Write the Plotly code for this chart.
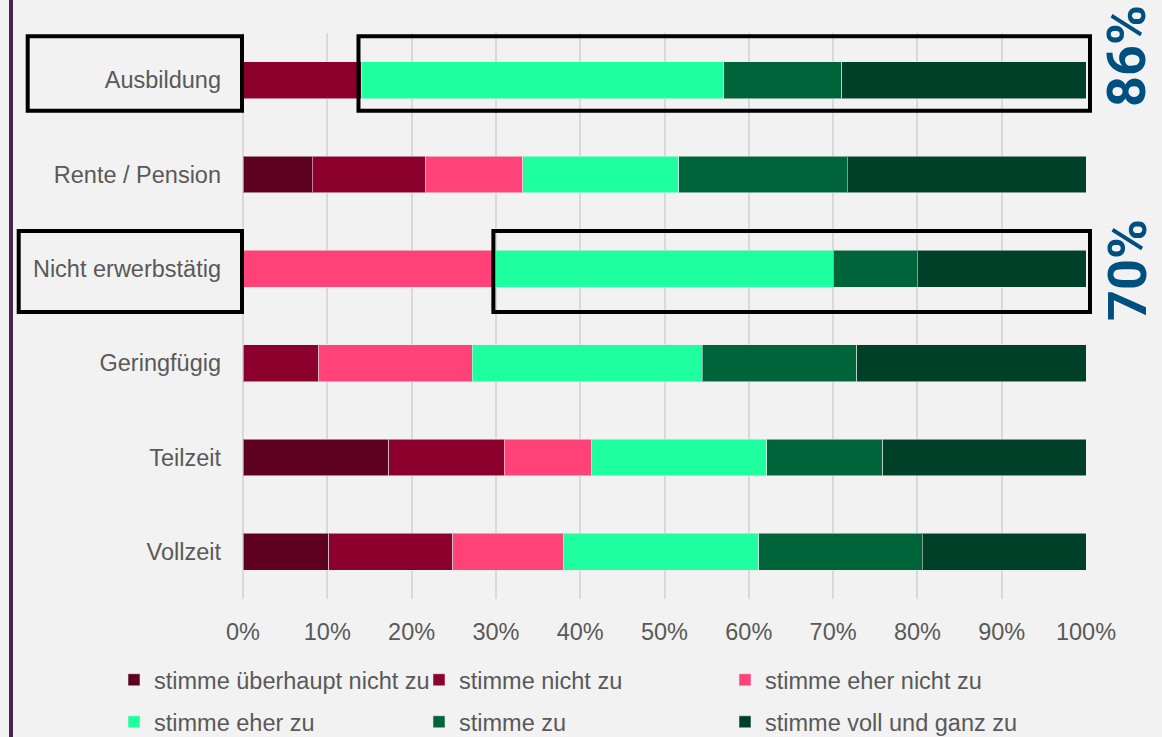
import plotly.graph_objects as go

# Survey answers by employment status (share of respondents, %)
categories = ["Ausbildung", "Rente / Pension", "Nicht erwerbstätig",
              "Geringfügig", "Teilzeit", "Vollzeit"]

series_names = ["stimme überhaupt nicht zu", "stimme nicht zu", "stimme eher nicht zu",
                "stimme eher zu", "stimme zu", "stimme voll und ganz zu"]

ueberhaupt_nicht = [0, 8.2, 0, 0, 17.3, 10.2]
nicht = [14, 13.4, 0, 9.0, 13.7, 14.7]
eher_nicht = [0, 11.6, 30, 18.2, 10.3, 13.1]
eher_zu = [43, 18.5, 40, 27.3, 20.8, 23.2]
zu = [14, 20.0, 10, 18.3, 13.8, 19.4]
voll = [29, 28.3, 20, 27.2, 24.1, 19.4]

series_colors = ["#5e001f", "#8c002d", "#ff4378", "#1effa0", "#00643a", "#003f28"]

x_ticks = list(range(0, 101, 10))
x_tick_labels = [f"{t}%" for t in x_ticks]

# categories whose agreement share is highlighted
highlighted = ["Ausbildung", "Nicht erwerbstätig"]

W, H = 1162, 737
M_L, M_R, M_T, M_B = 243, 76, 33, 138
PLOT_W = W - M_L - M_R
PLOT_H = H - M_T - M_B

TEXT_GREY = "#595959"
FONT = "Liberation Sans, Arial, sans-serif"
FS = 23.5

# legend grid: three columns, two rows
LEG_COL_X = [114, 419, 725]
LEG_ROW_Y = [680, 722]

series_values = [ueberhaupt_nicht, nicht, eher_nicht, eher_zu, zu, voll]

fig = go.Figure()
legend_layouts = {}
for i, (name, vals, col) in enumerate(zip(series_names, series_values, series_colors)):
    leg_id = "legend" if i == 0 else f"legend{i + 1}"
    fig.add_trace(go.Bar(
        name=name,
        y=categories,
        x=[v if v else None for v in vals],
        orientation="h",
        marker=dict(color=col, line=dict(color="rgba(235,235,235,0.55)", width=1)),
        legend=leg_id,
        hoverinfo="name+x",
    ))
    legend_layouts[leg_id] = dict(
        orientation="h", xref="container", yref="container",
        x=LEG_COL_X[i % 3] / W, xanchor="left",
        y=1 - LEG_ROW_Y[i // 3] / H, yanchor="middle",
        bgcolor="rgba(0,0,0,0)", borderwidth=0,
        font=dict(family=FONT, size=FS, color=TEXT_GREY),
    )


def px_x(px):
    """pixel column -> paper x"""
    return (px - M_L) / PLOT_W


def px_y(py):
    """pixel row -> paper y"""
    return (H - M_B - py) / PLOT_H


shapes = []
annotations = []

# vertical accent line on the left edge
shapes.append(dict(type="line", xref="paper", yref="paper",
                   x0=px_x(11), x1=px_x(11), y0=px_y(H + 5), y1=px_y(-5),
                   line=dict(color="#4a2353", width=4)))

box_rows = {
    "Ausbildung": dict(label_left=27.7, top=36.3, bottom=110.7, label_y=56),
    "Nicht erwerbstätig": dict(label_left=18.7, top=231, bottom=312, label_y=270),
}

for cat in highlighted:
    idx = categories.index(cat)
    disagree = ueberhaupt_nicht[idx] + nicht[idx] + eher_nicht[idx]
    agree = eher_zu[idx] + zu[idx] + voll[idx]
    b = box_rows[cat]
    y0, y1 = px_y(b["bottom"]), px_y(b["top"])
    # frame around the category label
    shapes.append(dict(type="rect", xref="paper", yref="paper",
                       x0=px_x(b["label_left"]), x1=px_x(242), y0=y0, y1=y1,
                       line=dict(color="black", width=4), layer="above"))
    # frame around the agreeing part of the bar
    shapes.append(dict(type="rect", xref="paper", yref="paper",
                       x0=disagree / 100 - 0.003, x1=px_x(1090), y0=y0, y1=y1,
                       line=dict(color="black", width=4), layer="above"))
    annotations.append(dict(
        text=f"<b>{round(agree)}%</b>", xref="paper", yref="paper",
        x=px_x(1127), y=px_y(b["label_y"]), xanchor="center", yanchor="middle",
        textangle=-90, showarrow=False,
        font=dict(family="Roboto, sans-serif", size=54, color="#00507f"),
    ))

fig.update_layout(
    width=W, height=H, autosize=False,
    margin=dict(l=M_L, r=M_R, t=M_T, b=M_B, pad=0, autoexpand=False),
    paper_bgcolor="#f2f2f2", plot_bgcolor="#f2f2f2",
    barmode="stack", bargap=0.61,
    font=dict(family=FONT, size=FS, color=TEXT_GREY),
    xaxis=dict(range=[0, 100], tickvals=x_ticks, ticktext=x_tick_labels,
               showgrid=True, gridcolor="#d9d9d9", gridwidth=1.5,
               zeroline=True, zerolinecolor="#d9d9d9", zerolinewidth=1.5,
               showline=False, ticks="", ticklabelstandoff=16, automargin=False,
               tickfont=dict(family=FONT, size=FS, color=TEXT_GREY), fixedrange=True),
    yaxis=dict(autorange="reversed", showgrid=False, zeroline=False, showline=False,
               ticks="", ticklabelstandoff=21, automargin=False,
               tickfont=dict(family=FONT, size=FS, color=TEXT_GREY), fixedrange=True),
    shapes=shapes,
    annotations=annotations,
    showlegend=True,
    **legend_layouts,
)

fig.write_html("out.html")
